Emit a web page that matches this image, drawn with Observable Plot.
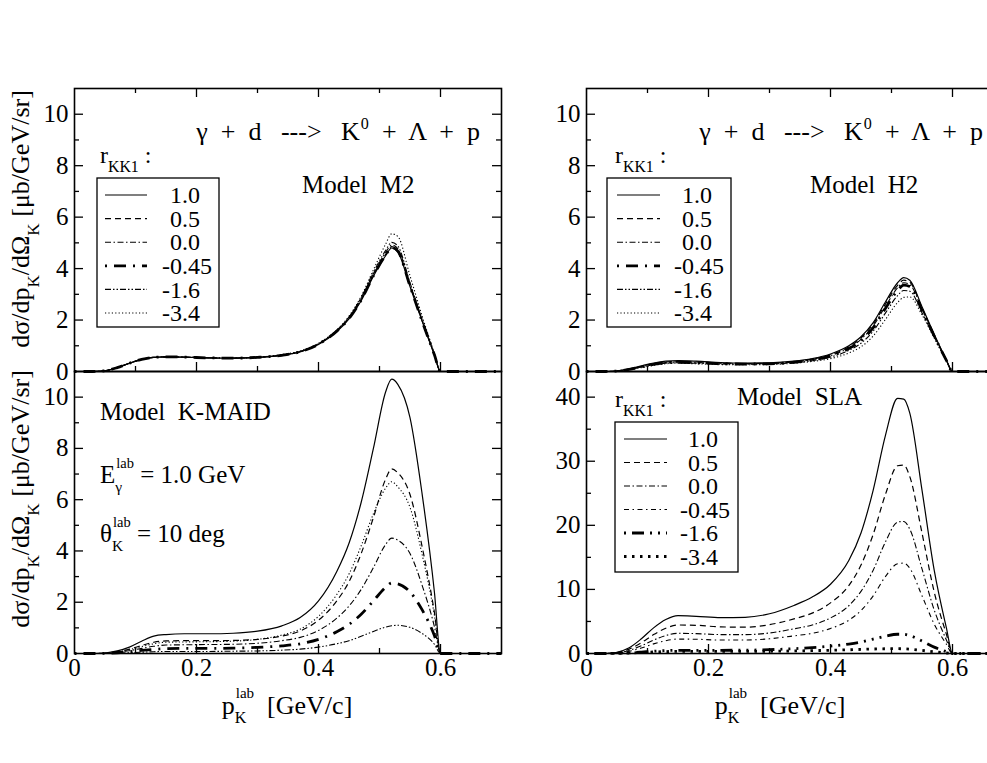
<!DOCTYPE html>
<html><head><meta charset="utf-8">
<script src="https://cdn.jsdelivr.net/npm/d3@7"></script>
<script src="https://cdn.jsdelivr.net/npm/@observablehq/plot@0.6"></script>
<style>
html,body{margin:0;padding:0;background:#fff;}
#chart{position:relative;width:987px;height:763px;overflow:hidden;background:#fff;font-family:"Liberation Serif","DejaVu Serif","Noto Serif",serif;}
#chart svg{position:absolute;}
</style></head><body><div id="chart"></div>
<script>
// ---- data ----
const rKK = ["1.0", "0.5", "0.0", "-0.45", "-1.6", "-3.4"];
const pK = [0, 0.03, 0.05, 0.07, 0.09, 0.11, 0.13, 0.15, 0.18, 0.22, 0.26, 0.30, 0.34, 0.37, 0.40, 0.43, 0.45, 0.47, 0.49, 0.51, 0.52, 0.53, 0.55, 0.57, 0.59, 0.60, 0.70];

// Model M2
const M2_p10  = [0,0,0.03,0.15,0.32,0.47,0.55,0.57,0.56,0.53,0.52,0.55,0.63,0.76,1.05,1.55,2.05,2.75,3.7,4.5,4.8,4.65,3.3,1.95,0.65,0,0];
const M2_p05  = [0,0,0.03,0.15,0.32,0.47,0.55,0.57,0.56,0.53,0.52,0.55,0.63,0.77,1.06,1.57,2.08,2.8,3.75,4.55,4.85,4.7,3.33,1.96,0.65,0,0];
const M2_p00  = [0,0,0.03,0.15,0.32,0.47,0.55,0.57,0.56,0.53,0.52,0.55,0.64,0.78,1.08,1.6,2.1,2.85,3.8,4.62,4.92,4.78,3.38,1.98,0.66,0,0];
const M2_m045 = [0,0,0.03,0.15,0.32,0.47,0.55,0.57,0.56,0.53,0.52,0.55,0.63,0.77,1.06,1.57,2.06,2.78,3.72,4.52,4.82,4.68,3.32,1.95,0.65,0,0];
const M2_m16  = [0,0,0.03,0.15,0.32,0.47,0.55,0.57,0.56,0.53,0.52,0.55,0.64,0.78,1.08,1.6,2.12,2.88,3.86,4.7,5.02,4.88,3.45,2.02,0.67,0,0];
const M2_m34  = [0,0,0.03,0.15,0.32,0.47,0.55,0.57,0.56,0.53,0.53,0.56,0.66,0.8,1.1,1.62,2.15,2.92,3.95,4.95,5.35,5.25,3.72,2.15,0.7,0,0];

// Model K-MAID
const KM_p10  = [0,0,0.02,0.1,0.25,0.48,0.68,0.74,0.77,0.77,0.79,0.87,1.08,1.4,2.05,3.2,4.3,5.9,8.0,10.2,10.7,10.5,9.2,6.2,2.4,0,0];
const KM_p05  = [0,0,0.01,0.07,0.17,0.31,0.44,0.49,0.5,0.5,0.51,0.55,0.68,0.88,1.3,2.05,2.8,3.9,5.3,6.8,7.2,7.05,6.2,4.15,1.6,0,0];
const KM_p00  = [0,0,0.01,0.05,0.11,0.2,0.28,0.33,0.34,0.35,0.36,0.4,0.5,0.63,0.9,1.38,1.85,2.5,3.35,4.25,4.5,4.42,3.9,2.65,1.05,0,0];
const KM_m045 = [0,0,0.005,0.03,0.07,0.12,0.16,0.19,0.2,0.2,0.21,0.24,0.3,0.38,0.55,0.85,1.13,1.53,2.05,2.58,2.75,2.72,2.4,1.7,0.7,0,0];
const KM_m16  = [0,0,0.003,0.015,0.03,0.05,0.07,0.08,0.08,0.08,0.09,0.1,0.13,0.17,0.25,0.38,0.5,0.67,0.86,1.03,1.08,1.1,1.02,0.78,0.36,0,0];
const KM_m34  = [0,0,0.01,0.06,0.15,0.27,0.38,0.44,0.45,0.46,0.48,0.55,0.72,0.95,1.45,2.3,3.1,4.2,5.45,6.45,6.7,6.5,5.7,3.85,1.5,0,0];

// Model H2
const H2_p10  = [0,0,0.02,0.1,0.22,0.33,0.4,0.42,0.4,0.35,0.33,0.34,0.4,0.5,0.68,1.0,1.35,1.9,2.7,3.45,3.65,3.55,2.52,1.45,0.45,0,0];
const H2_p05  = [0,0,0.02,0.09,0.2,0.31,0.37,0.39,0.37,0.33,0.31,0.32,0.38,0.48,0.65,0.96,1.3,1.84,2.62,3.35,3.55,3.47,2.47,1.42,0.44,0,0];
const H2_p00  = [0,0,0.02,0.09,0.19,0.29,0.35,0.37,0.35,0.31,0.3,0.31,0.37,0.46,0.62,0.92,1.25,1.77,2.53,3.25,3.45,3.38,2.42,1.4,0.43,0,0];
const H2_m045 = [0,0,0.02,0.08,0.18,0.28,0.34,0.36,0.34,0.3,0.29,0.3,0.36,0.45,0.6,0.89,1.2,1.7,2.45,3.15,3.36,3.3,2.38,1.38,0.43,0,0];
const H2_m16  = [0,0,0.02,0.08,0.17,0.26,0.32,0.34,0.32,0.29,0.28,0.29,0.34,0.42,0.56,0.82,1.1,1.57,2.27,2.95,3.15,3.12,2.28,1.34,0.42,0,0];
const H2_m34  = [0,0,0.01,0.07,0.15,0.24,0.3,0.32,0.3,0.27,0.26,0.27,0.32,0.39,0.5,0.72,0.96,1.38,2.02,2.68,2.88,2.9,2.2,1.3,0.41,0,0];

// Model SLA
const SLA_p10  = [0,0,0.2,0.9,2.3,4.0,5.3,5.9,5.8,5.6,5.65,6.2,7.5,8.8,10.8,14.5,18.8,25.5,34.0,39.8,39.7,37.5,25.5,13.0,4.0,0,0];
const SLA_p05  = [0,0,0.15,0.68,1.7,2.95,3.95,4.45,4.4,4.15,4.1,4.5,5.4,6.3,7.9,10.6,13.8,18.6,24.8,29.3,29.4,27.6,18.8,9.6,3.0,0,0];
const SLA_p00  = [0,0,0.1,0.48,1.2,2.1,2.8,3.15,3.1,2.95,2.95,3.2,3.85,4.45,5.55,7.45,9.7,13.0,17.4,20.5,20.6,19.4,13.2,6.8,2.1,0,0];
const SLA_m045 = [0,0,0.07,0.34,0.86,1.5,2.0,2.25,2.22,2.1,2.1,2.3,2.75,3.15,3.9,5.2,6.7,9.0,12.0,14.0,14.1,13.3,9.0,4.6,1.45,0,0];
const SLA_m16  = [0,0,0.02,0.1,0.22,0.35,0.45,0.5,0.5,0.5,0.52,0.6,0.75,0.92,1.15,1.48,1.8,2.25,2.7,3.0,3.0,2.8,1.95,1.0,0.3,0,0];
const SLA_m34  = [0,0,0.02,0.08,0.16,0.24,0.3,0.33,0.33,0.33,0.33,0.35,0.4,0.45,0.5,0.58,0.64,0.7,0.74,0.75,0.73,0.68,0.48,0.26,0.08,0,0];

// ticks
const xLabels = [0, 0.2, 0.4, 0.6];
const xMajor = [0.2, 0.4, 0.6];
const xMinor = [0.1, 0.3, 0.5];
const yLabelsA = [0, 2, 4, 6, 8, 10], yMajorA = [2, 4, 6, 8, 10], yMinorA = [1, 3, 5, 7, 9];
const yLabelsB = [0, 10, 20, 30, 40], yMajorB = [10, 20, 30, 40], yMinorB = [5, 15, 25, 35];

// ---- styles ----
const SERIF = "'Liberation Serif', 'DejaVu Serif', 'Noto Serif', serif";
const stylesStd = [
  {w: 1.2, dash: null},
  {w: 1.2, dash: "6,4"},
  {w: 1.1, dash: "6,2.5,1.5,2.5"},
  {w: 2.8, dash: "2,7,12,7"},
  {w: 1.1, dash: "6,2,1.5,2,1.5,2"},
  {w: 1.1, dash: "1.2,2.2"}
];
const stylesSLA = [
  {w: 1.2, dash: null},
  {w: 1.2, dash: "6,4"},
  {w: 1.1, dash: "6,2.5,1.5,2.5"},
  {w: 1.1, dash: "5,3.5,1.5,3.5"},
  {w: 2.8, dash: "2,6,12,6,2,6,2,6"},
  {w: 2.8, dash: "2.5,5.5"}
];

const toRows = arr => arr.map((y, i) => ({x: pK[i], y}));

const chart = document.getElementById("chart");

function panel({series, styles, yDomain, yLabels, yMajor, yMinor, top, left}) {
  const fh = top ? 283 : 282, fw = 427;
  const marks = [];
  series.forEach((arr, i) => {
    const st = styles[i];
    marks.push(Plot.line(toRows(arr), {x: "x", y: "y", curve: "monotone-x", stroke: "black",
      strokeWidth: st.w, strokeDasharray: st.dash, strokeLinecap: "butt", strokeLinejoin: "round"}));
  });
  const tk = {stroke: "black", strokeWidth: 1.3};
  marks.push(Plot.tickX(xMajor, {x: d => d, insetTop: fh - 9, ...tk}));
  marks.push(Plot.tickX(xMinor, {x: d => d, insetTop: fh - 5, ...tk}));
  if (top) {
    marks.push(Plot.tickX(xMajor, {x: d => d, insetBottom: fh - 9, ...tk}));
    marks.push(Plot.tickX(xMinor, {x: d => d, insetBottom: fh - 5, ...tk}));
  }
  marks.push(Plot.tickY(yMajor, {y: d => d, insetRight: fw - 9, ...tk}));
  marks.push(Plot.tickY(yMinor, {y: d => d, insetRight: fw - 5, ...tk}));
  marks.push(Plot.tickY(yMajor, {y: d => d, insetLeft: fw - 9, ...tk}));
  marks.push(Plot.tickY(yMinor, {y: d => d, insetLeft: fw - 5, ...tk}));
  marks.push(Plot.axisY({ticks: yLabels, tickSize: 0, tickPadding: 6, fontSize: 25, fontFamily: SERIF, tickFormat: d => String(d), label: null}));
  if (!top) marks.push(Plot.axisX({ticks: xLabels, tickSize: 0, tickPadding: 5, fontSize: 25, fontFamily: SERIF, tickFormat: d => String(d), label: null}));
  marks.push(Plot.frame({stroke: "black", strokeWidth: 1.6}));
  const svg = Plot.plot({
    width: 502, height: top ? 371 : 763,
    marginLeft: 74, marginRight: 1, marginTop: top ? 88 : 371, marginBottom: top ? 0 : 110,
    x: {domain: [0, 0.7], axis: top ? null : undefined},
    y: {domain: yDomain},
    style: {background: "transparent", overflow: "visible", fontFamily: SERIF, color: "black", maxWidth: "none"},
    marks
  });
  svg.style.left = left + "px";
  svg.style.top = "0px";
  chart.appendChild(svg);
}

panel({series: [M2_p10, M2_p05, M2_p00, M2_m045, M2_m16, M2_m34], styles: stylesStd, yDomain: [0, 11], yLabels: yLabelsA, yMajor: yMajorA, yMinor: yMinorA, top: true, left: 0});
panel({series: [KM_p10, KM_p05, KM_p00, KM_m045, KM_m16, KM_m34], styles: stylesStd, yDomain: [0, 11], yLabels: yLabelsA, yMajor: yMajorA, yMinor: yMinorA, top: false, left: 0});
panel({series: [H2_p10, H2_p05, H2_p00, H2_m045, H2_m16, H2_m34], styles: stylesStd, yDomain: [0, 11], yLabels: yLabelsA, yMajor: yMajorA, yMinor: yMinorA, top: true, left: 512});
panel({series: [SLA_p10, SLA_p05, SLA_p00, SLA_m045, SLA_m16, SLA_m34], styles: stylesSLA, yDomain: [0, 44], yLabels: yLabelsB, yMajor: yMajorB, yMinor: yMinorB, top: false, left: 512});

// ---- annotation overlay ----
const ov = d3.select(chart).append("svg").attr("width", 987).attr("height", 763)
  .style("left", "0px").style("top", "0px").style("overflow", "visible");

function rich(x, y, runs, size, anchor = "start", rotate = 0) {
  const g = ov.append("g").style("font-family", SERIF).attr("fill", "black");
  const inner = g.append("g");
  let cx = 0;
  const put = (t, dx, dy, fs) => {
    const el = inner.append("text").attr("x", cx + dx).attr("y", dy).attr("font-size", fs)
      .style("font-family", SERIF).attr("xml:space", "preserve").style("white-space", "pre").text(t);
    return el.node().getComputedTextLength();
  };
  for (const r of runs) {
    const kind = r[1] || "n";
    if (kind === "n") cx += put(r[0], 0, 0, size);
    else if (kind === "sub") cx += put(r[0], 0, size * 0.38, size * 0.66);
    else if (kind === "sup") cx += put(r[0], 1, -size * 0.42, size * 0.62) + 1;
    else if (kind === "subsup") {
      const a = put(r[0], 0, size * 0.36, size * 0.62);
      const b = put(r[2], 1, -size * 0.6, size * 0.58);
      cx += Math.max(a, b + 1);
    }
  }
  const shift = anchor === "middle" ? -cx / 2 : anchor === "end" ? -cx : 0;
  inner.attr("transform", `translate(${shift},0)`);
  g.attr("transform", `translate(${x},${y})` + (rotate ? ` rotate(${rotate})` : ""));
  return g;
}

function legend(box, line, labelX, row0, dy, styles, size = 24) {
  ov.append("rect").attr("x", box[0]).attr("y", box[1]).attr("width", box[2] - box[0]).attr("height", box[3] - box[1])
    .attr("fill", "none").attr("stroke", "black").attr("stroke-width", 1.3);
  styles.forEach((st, i) => {
    const yy = row0 + i * dy;
    ov.append("line").attr("x1", line[0]).attr("x2", line[1]).attr("y1", yy).attr("y2", yy)
      .attr("stroke", "black").attr("stroke-width", st.w).attr("stroke-dasharray", st.dash);
    const lab = rKK[i];
    ov.append("text").attr("x", labelX - (lab.startsWith("-") ? size * 0.333 : 0)).attr("y", yy + size * 0.34)
      .attr("font-size", size).style("font-family", SERIF).attr("fill", "black").text(lab);
  });
}

const reaction = [["γ  +  d   --->   K"], ["0", "sup"], ["  +  Λ  +  p"]];
const rLabel = [["r"], ["KK1", "sub"], [" :"]];
const yLab = [["dσ/dp"], ["K", "sub"], ["/dΩ"], ["K", "sub"], [" [μb/GeV/sr]"]];
const xLab = [["p"], ["K", "subsup", "lab"], ["  [GeV/c]"]];

// top-left
rich(480, 140, reaction, 26, "end");
rich(100, 163, rLabel, 24);
legend([97, 178, 219, 327], [105, 147], 170, 195, 23.6, stylesStd);
rich(302, 193, [["Model  M2"]], 25);
// bottom-left
rich(100, 420, [["Model  K-MAID"]], 25);
rich(100, 483, [["E"], ["γ", "subsup", "lab"], [" = 1.0 GeV"]], 25);
rich(100, 542, [["θ"], ["K", "subsup", "lab"], [" = 10 deg"]], 25);
// top-right
rich(983, 140, reaction, 26, "end");
rich(615, 163, rLabel, 24);
legend([607, 178, 731, 327], [617, 660], 682, 195, 23.6, stylesStd);
rich(810, 193, [["Model  H2"]], 25);
// bottom-right
rich(615, 407, rLabel, 24);
rich(737, 405, [["Model  SLA"]], 25);
legend([615, 422, 738, 572], [624, 667], 688, 439, 23.5, stylesSLA);
// axis titles
rich(29, 219, yLab, 26, "middle", -90);
rich(29, 499, yLab, 26, "middle", -90);
rich(287, 714, xLab, 26, "middle");
rich(780, 714, xLab, 26, "middle");
</script></body></html>
